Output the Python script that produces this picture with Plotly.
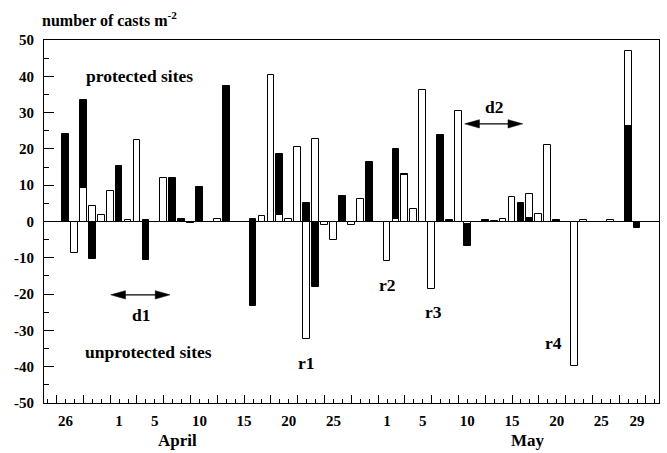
import plotly.graph_objects as go

# Day index: 0 = 26 March, 6 = 1 April, 36 = 1 May, 64 = 29 May
protected_black_days = [0, 2, 6, 9, 12, 13, 15, 18, 21, 24, 27, 31, 34, 37, 38, 42, 43, 47, 48, 51, 52, 55, 63]
protected_black = [24, 33.5, 15.2, 0.5, 12.1, 0.6, 9.4, 37.2, 0.7, 18.7, 5.2, 7.1, 16.3, 20.1, 13.2, 23.7,
                   0.4, 0.3, 0.2, 5.1, 1.1, 0.4, 26.2]

protected_white_days = [2, 3, 4, 5, 7, 8, 11, 17, 22, 23, 24, 25, 26, 28, 33, 37, 38, 39, 40, 44, 49, 50, 52,
                        53, 54, 58, 61, 63]
protected_white = [9.3, 4.4, 1.7, 8.5, 0.3, 22.5, 12, 0.8, 1.5, 40.4, 1.7, 0.7, 20.5, 22.8, 6.3, 0.8, 12.7,
                   3.5, 36.1, 30.5, 0.6, 6.8, 7.7, 2.2, 21.2, 0.3, 0.5, 47]

unprotected_black_days = [3, 9, 14, 19, 21, 28, 35, 45, 56, 64]
unprotected_black = [-10.2, -10.7, -0.3, -0.2, -23.3, -18, -0.2, -6.8, -0.2, -1.7]

unprotected_white_days = [1, 27, 29, 30, 32, 36, 41, 45, 57]
unprotected_white = [-8.8, -32.4, -1.1, -5, -1, -10.9, -18.7, -0.8, -39.7]

tick_days = [0, 6, 10, 15, 20, 25, 30, 36, 40, 45, 50, 55, 60, 64]
tick_text = ["26", "1", "5", "10", "15", "20", "25", "1", "5", "10", "15", "20", "25", "29"]

y_ticks = list(range(-50, 51, 10))
y_text = [str(v) for v in y_ticks]

FONT = "Liberation Serif"

# Black and white bars share a day slot; the taller one sits behind the shorter one.
groups = {}
for days, vals, col in [
    (protected_black_days, protected_black, "black"),
    (protected_white_days, protected_white, "white"),
    (unprotected_black_days, unprotected_black, "black"),
    (unprotected_white_days, unprotected_white, "white"),
]:
    for d, v in zip(days, vals):
        groups.setdefault((d, v > 0), []).append((v, col))

back_x, back_y, back_c = [], [], []
front_x, front_y, front_c = [], [], []
for (d, _), items in sorted(groups.items()):
    items.sort(key=lambda t: -abs(t[0]))
    back_x.append(d)
    back_y.append(items[0][0])
    back_c.append(items[0][1])
    for v, c in items[1:]:
        front_x.append(d)
        front_y.append(v)
        front_c.append(c)

fig = go.Figure()
for xs, ys, cs in [(back_x, back_y, back_c), (front_x, front_y, front_c)]:
    fig.add_trace(go.Bar(
        x=xs, y=ys, width=0.76,
        marker=dict(color=cs, line=dict(color="black", width=1)),
        showlegend=False, hoverinfo="x+y",
    ))

x_range = [-2.41, 66.46]

# invisible trace carrying the tick-mark axis
fig.add_trace(go.Scatter(x=[0], y=[0], xaxis="x2", mode="markers",
                         marker=dict(opacity=0), showlegend=False, hoverinfo="skip"))

fig.update_layout(
    width=667, height=453,
    margin=dict(l=44, r=8, t=40, b=50),
    paper_bgcolor="white", plot_bgcolor="white",
    barmode="overlay", bargap=0,
    font=dict(family=FONT, size=14, color="black", weight="bold"),
    xaxis=dict(
        range=x_range, tickmode="array", tickvals=tick_days, ticktext=tick_text,
        ticks="", showgrid=False, zeroline=False,
        showline=True, linecolor="black", linewidth=1, mirror=True,
        tickfont=dict(family=FONT, size=15, weight="bold"),
        ticklabelstandoff=4,
    ),
    xaxis2=dict(
        range=x_range, overlaying="x", side="bottom",
        tickmode="linear", tick0=-1, dtick=3, ticks="inside", ticklen=8,
        tickcolor="black", tickwidth=1, showticklabels=False,
        minor=dict(tickmode="linear", tick0=0, dtick=1, ticks="inside", ticklen=4,
                   tickcolor="black", tickwidth=1),
        showgrid=False, zeroline=False, showline=False,
    ),
    yaxis=dict(
        range=[-50, 50], tickmode="array", tickvals=y_ticks, ticktext=y_text,
        ticks="inside", ticklen=10, tickcolor="black", tickwidth=1,
        minor=dict(tickmode="linear", tick0=-45, dtick=10, ticks="inside", ticklen=5,
                   tickcolor="black", tickwidth=1),
        showgrid=False, zeroline=True, zerolinecolor="black", zerolinewidth=1,
        showline=True, linecolor="black", linewidth=1, mirror=True,
        tickfont=dict(family=FONT, size=15, weight="bold"),
        ticklabelstandoff=6,
    ),
)

ann_font = dict(family=FONT, size=17.5, color="black", weight="bold")

texts = [
    ("protected sites", 8.23, 40.1),
    ("unprotected sites", 9.24, -36.0),
    ("d1", 8.45, -25.8),
    ("d2", 48.0, 31.5),
    ("r1", 27.0, -39.0),
    ("r2", 36.1, -17.5),
    ("r3", 41.2, -24.9),
    ("r4", 54.7, -33.5),
]
for t, x, y in texts:
    fig.add_annotation(x=x, y=y, xref="x", yref="y", text=t, showarrow=False, font=ann_font)

# double-headed period arrows: shaft plus two slim filled heads
HEAD_LEN = 1.65   # days
HEAD_HALF = 1.15  # casts m-2
for x0, x1, y in [(5.06, 11.7, -20.2), (44.7, 51.2, 26.9)]:
    fig.add_shape(type="line", x0=x0 + HEAD_LEN * 0.5, x1=x1 - HEAD_LEN * 0.5, y0=y, y1=y,
                  xref="x", yref="y", line=dict(color="black", width=1.3))
    for tip, back in [(x0, x0 + HEAD_LEN), (x1, x1 - HEAD_LEN)]:
        fig.add_shape(type="path", xref="x", yref="y",
                      path=f"M {tip},{y} L {back},{y + HEAD_HALF} L {back},{y - HEAD_HALF} Z",
                      fillcolor="black", line=dict(color="black", width=0.5))

for t, x in [("April", 12.5), ("May", 51.8)]:
    fig.add_annotation(x=x, y=-0.102, xref="x", yref="paper", yanchor="middle",
                       text=t, showarrow=False,
                       font=dict(family=FONT, size=17, color="black", weight="bold"))

fig.add_annotation(x=-0.0065, y=1.057, xref="paper", yref="paper", xanchor="left", yanchor="middle",
                   text="number of casts m<sup>-2</sup>", showarrow=False,
                   font=dict(family=FONT, size=16, color="black", weight="bold"))

fig.write_html("out.html")
